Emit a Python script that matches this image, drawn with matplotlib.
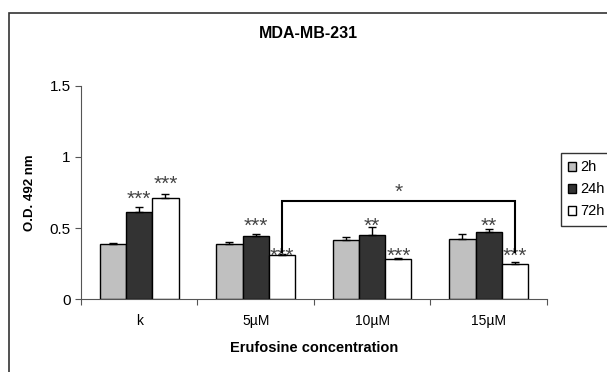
import numpy as np
import matplotlib.pyplot as plt
from matplotlib.patches import Rectangle

plt.rcParams['font.family'] = ['Liberation Sans', 'DejaVu Sans']

# ── data ──
categories = ['k', '5µM', '10µM', '15µM']
series = ['2h', '24h', '72h']
vals_2h = [0.385, 0.39, 0.415, 0.42]
vals_24h = [0.615, 0.445, 0.45, 0.47]
vals_72h = [0.71, 0.31, 0.28, 0.25]
err_2h = [0.008, 0.01, 0.02, 0.04]
err_24h = [0.035, 0.015, 0.055, 0.02]
err_72h = [0.03, 0.005, 0.01, 0.01]
stars_24h = ['***', '***', '**', '**']
stars_72h = ['***', '***', '***', '***']

colors = ['#c0c0c0', '#333333', '#ffffff']

fig = plt.figure(figsize=(6.07, 3.72), dpi=100)
ax = fig.add_axes([0.1334, 0.196, 0.7676, 0.573])

x = np.arange(len(categories))
w = 0.225
for i, (v, e, c) in enumerate(zip([vals_2h, vals_24h, vals_72h],
                                  [err_2h, err_24h, err_72h], colors)):
    pos = x + (i - 1) * w
    ax.bar(pos, v, w, color=c, edgecolor='black', linewidth=1.0,
           label=series[i], zorder=2)
    ax.errorbar(pos, v, yerr=[np.zeros(len(e)), e], fmt='none',
                ecolor='black', elinewidth=1.0, capsize=3, capthick=1.0, zorder=3)

# significance marks
star_kw = dict(ha='center', va='center', color='#444444', fontsize=15)
ax.text(x[0], 0.70, stars_24h[0], **star_kw)
ax.text(x[0] + w, 0.805, stars_72h[0], **star_kw)
for j in range(1, 4):
    ax.text(x[j], 0.51, stars_24h[j], **star_kw)
    ax.text(x[j] + w, 0.30, stars_72h[j], **star_kw)

# bracket 5µM 72h vs 15µM 72h
bx0, bx1 = x[1] + w, x[3] + w
ax.plot([bx0, bx0, bx1, bx1], [0.33, 0.69, 0.69, 0.33], color='black',
        lw=1.5, zorder=4, solid_joinstyle='miter')
ax.text((bx0 + bx1) / 2, 0.75, '*', **star_kw)

ax.set_xlim(-0.5, 3.5)
ax.set_ylim(0, 1.5)
ax.set_yticks([0, 0.5, 1, 1.5])
ax.set_yticklabels(['0', '0.5', '1', '1.5'])
ax.set_xticks(np.arange(-0.5, 4, 1))
ax.set_xticklabels([])
ax.set_xticks(x, minor=True)
ax.set_xticklabels(categories, minor=True)
ax.tick_params(axis='x', which='minor', length=0, pad=11, labelsize=10)
ax.tick_params(axis='x', which='major', length=4, color='#555555')
ax.tick_params(axis='y', length=4, color='#555555', labelsize=11)
for s in ['top', 'right']:
    ax.spines[s].set_visible(False)
for s in ['left', 'bottom']:
    ax.spines[s].set_color('#555555')

ax.set_ylabel('O.D. 492 nm', fontsize=9.5, fontweight='bold', labelpad=10)
ax.set_xlabel('Erufosine concentration', fontsize=10.5, fontweight='bold', labelpad=9)
fig.text(0.508, 0.91, 'MDA-MB-231', ha='center', va='center',
         fontsize=11.5, fontweight='bold')

fig.legend(loc='upper left', bbox_to_anchor=(561 / 607, 1 - 153 / 372),
           fontsize=10.5, frameon=True, fancybox=False, edgecolor='black',
           handlelength=0.55, handleheight=0.55, handletextpad=0.3,
           labelspacing=0.55, borderpad=0.5, borderaxespad=0)

# outer frame
fig.patches.append(Rectangle((8.5 / 607, -0.1), 1.2, 1 - 13 / 372 + 0.1,
                             transform=fig.transFigure, fill=False,
                             edgecolor='#333333', lw=1.2))

fig.savefig('out.png', dpi=100)
